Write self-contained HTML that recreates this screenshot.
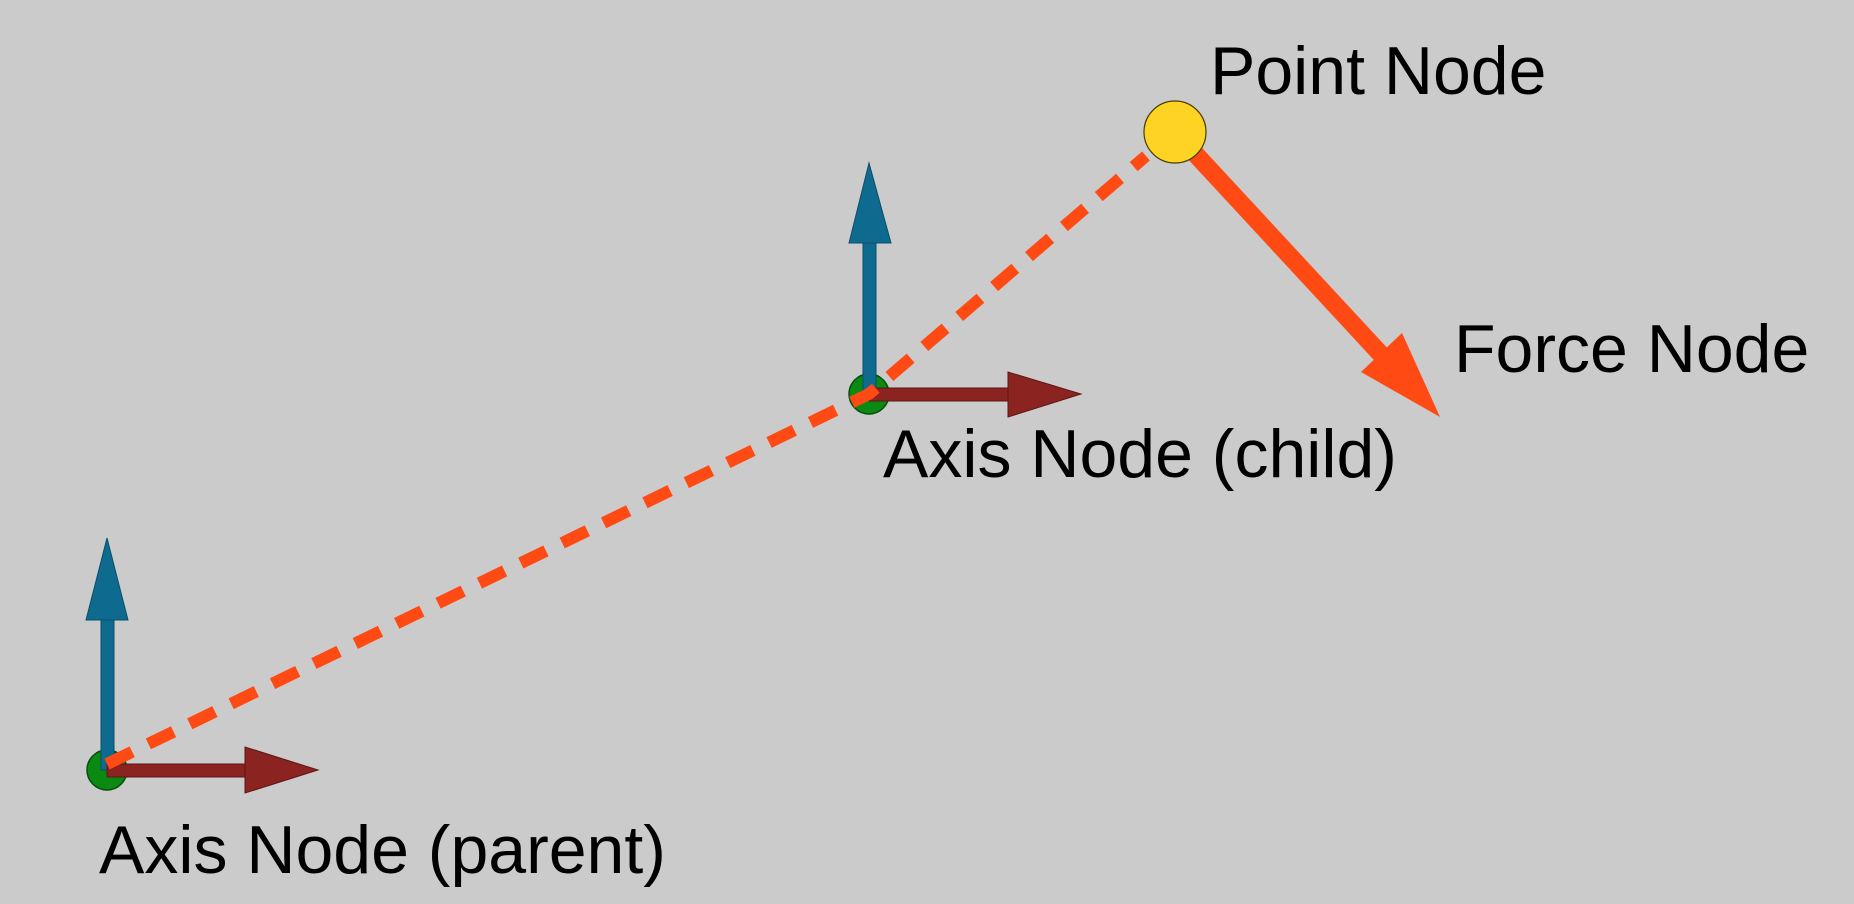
<!DOCTYPE html>
<html><head><meta charset="utf-8"><style>
html,body{margin:0;padding:0;background:#cbcbcb;}
svg{display:block}
text{font-family:"Liberation Sans",sans-serif;font-size:68px;fill:#000}
</style></head><body>
<svg width="1854" height="904" viewBox="0 0 1854 904">
<rect width="1854" height="904" fill="#cbcbcb"/>
<!-- parent axis -->
<circle cx="107" cy="770" r="20" fill="#0a8a12" stroke="#064d0a" stroke-width="1.5"/>
<rect x="101" y="618" width="13" height="152" fill="#0f6a8f" stroke="#0a4f6a" stroke-width="1"/>
<polygon points="86,620 128,620 107,538" fill="#0f6a8f" stroke="#0a4f6a" stroke-width="1"/>
<rect x="107" y="764" width="140" height="13" fill="#8b2320" stroke="#5e1614" stroke-width="1"/>
<polygon points="245,747 245,793 318,770" fill="#8b2320" stroke="#5e1614" stroke-width="1"/>
<!-- child axis -->
<circle cx="869" cy="394" r="20" fill="#0a8a12" stroke="#064d0a" stroke-width="1.5"/>
<rect x="863" y="241" width="13" height="153" fill="#0f6a8f" stroke="#0a4f6a" stroke-width="1"/>
<polygon points="849,243 891,243 869,163" fill="#0f6a8f" stroke="#0a4f6a" stroke-width="1"/>
<rect x="869" y="388" width="141" height="13" fill="#8b2320" stroke="#5e1614" stroke-width="1"/>
<polygon points="1008,372 1008,417 1081,394" fill="#8b2320" stroke="#5e1614" stroke-width="1"/>
<!-- dashed path -->
<polyline points="107,764 869,394 1146,156" fill="none" stroke="#ff4a14" stroke-width="12" stroke-dasharray="28,18"/>
<!-- force arrow -->
<line x1="1175" y1="132" x2="1388" y2="362" stroke="#ff4a14" stroke-width="18"/>
<polygon points="1361,372 1402,333 1440,417" fill="#ff4a14"/>
<!-- point -->
<circle cx="1175" cy="132" r="31" fill="#ffd324" stroke="#4a3d00" stroke-width="1.2"/>
<!-- labels -->
<text x="1210" y="94">Point Node</text>
<text x="1454" y="372">Force Node</text>
<text x="883" y="477">Axis Node (child)</text>
<text x="99" y="873">Axis Node (parent)</text>
</svg>
</body></html>
